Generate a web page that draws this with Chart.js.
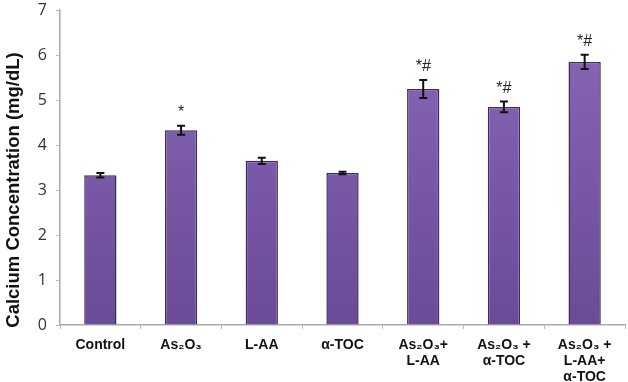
<!DOCTYPE html>
<html>
<head>
<meta charset="utf-8">
<script src="https://cdn.jsdelivr.net/npm/chart.js@4"></script>
<style>
  html, body { margin: 0; padding: 0; background: #fff; }
  #wrap { width: 628px; height: 382px; }
</style>
</head>
<body>
<div id="wrap"><canvas id="calciumChart" width="628" height="382"></canvas></div>
<script>
  // groups along the x axis (multi-line labels)
  const groups = [
    ['Control'],
    ['As₂O₃'],
    ['L-AA'],
    ['α-TOC'],
    ['As₂O₃+', 'L-AA'],
    ['As₂O₃ +', 'α-TOC'],
    ['As₂O₃ +', 'L-AA+', 'α-TOC']
  ];
  // mean calcium concentration (mg/dL)
  const calcium = [3.33, 4.33, 3.65, 3.38, 5.25, 4.85, 5.85];
  // standard error
  const calciumErr = [0.05, 0.10, 0.07, 0.03, 0.20, 0.12, 0.16];
  // significance marks above the bars
  const signif = ['', '*', '', '', '*#', '*#', '*#'];
  const yTicks = [0, 1, 2, 3, 4, 5, 6, 7];
  const yTitle = 'Calcium Concentration (mg/dL)';

  // error bars + significance symbols + y title
  const errorBars = {
    id: 'errorBars',
    afterDatasetsDraw(chart) {
      const ctx = chart.ctx;
      const y = chart.scales.y;
      const meta = chart.getDatasetMeta(0);
      ctx.save();
      ctx.strokeStyle = '#111';
      ctx.lineWidth = 2;
      meta.data.forEach((bar, i) => {
        const x = bar.x;
        const top = y.getPixelForValue(calcium[i] + calciumErr[i]);
        const bot = y.getPixelForValue(calcium[i] - calciumErr[i]);
        ctx.beginPath();
        ctx.moveTo(x, top); ctx.lineTo(x, bot);
        ctx.moveTo(x - 4, top); ctx.lineTo(x + 4, top);
        ctx.moveTo(x - 4, bot); ctx.lineTo(x + 4, bot);
        ctx.stroke();
        if (signif[i]) {
          ctx.fillStyle = '#222';
          ctx.font = '16px "Liberation Sans", Arial, sans-serif';
          ctx.textAlign = 'center';
          ctx.textBaseline = 'bottom';
          ctx.fillText(signif[i], x, top - 5);
        }
      });
      // rotated y axis title, a bit below the axis middle as in the original
      ctx.translate(14, 190);
      ctx.rotate(-Math.PI / 2);
      ctx.fillStyle = '#111';
      ctx.font = 'bold 18.5px "Liberation Sans", Arial, sans-serif';
      ctx.textAlign = 'center';
      ctx.textBaseline = 'middle';
      ctx.fillText(yTitle, 0, 0);
      ctx.restore();
    }
  };

  const ctx = document.getElementById('calciumChart').getContext('2d');
  const grad = ctx.createLinearGradient(0, 8, 0, 325);
  grad.addColorStop(0, '#8a68b8');
  grad.addColorStop(0.5, '#7a5aa8');
  grad.addColorStop(1, '#6a4b98');

  new Chart(ctx, {
    type: 'bar',
    data: {
      labels: groups,
      datasets: [{
        label: 'Calcium',
        data: calcium,
        backgroundColor: grad,
        borderColor: '#3d2a60',
        borderWidth: 1.5,
        barPercentage: 0.4,
        categoryPercentage: 1.0
      }]
    },
    options: {
      responsive: false,
      animation: false,
      layout: { padding: { top: 0, right: 3, left: 0, bottom: 0 } },
      plugins: {
        legend: { display: false },
        tooltip: { enabled: false }
      },
      scales: {
        x: {
          grid: { display: true, drawOnChartArea: false, color: '#bbb', tickLength: 4 },
          border: { color: '#aaa', width: 1.5 },
          ticks: {
            color: '#111',
            font: { family: '"Liberation Sans", Arial, sans-serif', size: 14, weight: 'bold', lineHeight: 1.15 },
            maxRotation: 0,
            autoSkip: false,
            padding: 8
          },
          afterFit(scale) { scale.height = 57; }
        },
        y: {
          min: 0,
          max: 7,
          afterBuildTicks(scale) { scale.ticks = yTicks.map(v => ({ value: v })); },
          grid: { display: true, drawOnChartArea: false, color: '#bbb', tickLength: 4 },
          border: { color: '#aaa', width: 1.5 },
          ticks: {
            color: '#333',
            font: { family: '"Open Sans", "DejaVu Sans", sans-serif', size: 16, lineHeight: 0.15 },
            padding: 9
          },
          afterFit(scale) { scale.width = 60; }
        }
      }
    },
    plugins: [errorBars]
  });
</script>
</body>
</html>
